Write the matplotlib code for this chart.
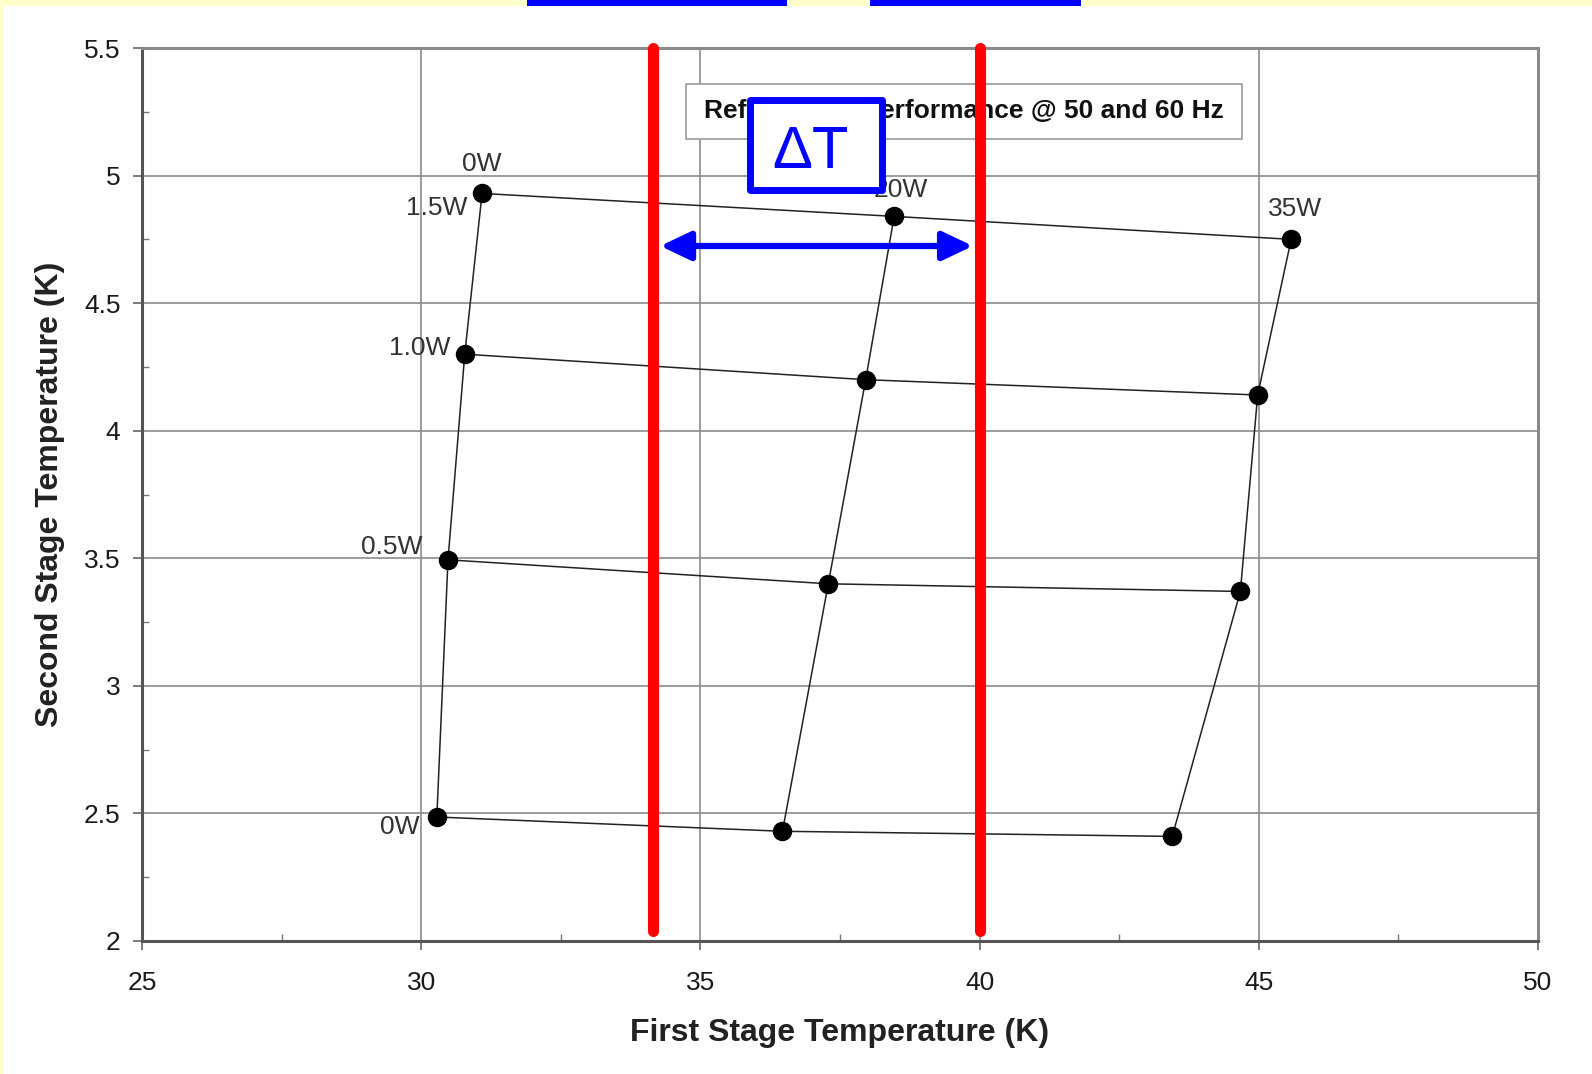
import matplotlib
matplotlib.use('Agg')
import matplotlib.pyplot as plt
from matplotlib.patches import Rectangle

plt.rcParams['font.family'] = ['Liberation Sans', 'DejaVu Sans']

# ---------------- data ----------------
first_stage_loads = ['0W', '20W', '35W']            # columns
second_stage_loads = ['0W', '0.5W', '1.0W', '1.5W']  # rows
first_stage_T = [
    [30.28, 36.47, 43.45],
    [30.48, 37.29, 44.67],
    [30.78, 37.96, 44.98],
    [31.09, 38.47, 45.58],
]
second_stage_T = [
    [2.486, 2.43, 2.41],
    [3.494, 3.40, 3.37],
    [4.30, 4.20, 4.14],
    [4.93, 4.84, 4.75],
]
x_ticks = [25, 30, 35, 40, 45, 50]
x_tick_labels = ['25', '30', '35', '40', '45', '50']
y_ticks = [2, 2.5, 3, 3.5, 4, 4.5, 5, 5.5]
y_tick_labels = ['2', '2.5', '3', '3.5', '4', '4.5', '5', '5.5']
x_minor = [27.5, 32.5, 37.5, 42.5, 47.5]
y_minor = [2.25, 2.75, 3.25, 3.75, 4.25, 4.75, 5.25]
delta_T_bounds = [34.15, 40.0]
arrow_span = [34.28, 39.88]
arrow_level = 4.724
title_text = 'Refrigerator Performance @ 50 and 60 Hz'

W, H = 1592, 1074
fig = plt.figure(figsize=(W / 100, H / 100), dpi=100, facecolor='white')

# yellow slide border strips and blue bars at top
fig.patches.append(Rectangle((0, 1 - 6 / H), 1, 6 / H, transform=fig.transFigure,
                             facecolor='#FFFFCC', edgecolor='none', zorder=0))
fig.patches.append(Rectangle((0, 0), 4 / W, 1, transform=fig.transFigure,
                             facecolor='#FFFFCC', edgecolor='none', zorder=0))
fig.patches.append(Rectangle((527 / W, 1 - 6 / H), 260 / W, 6 / H, transform=fig.transFigure,
                             facecolor='#0000FF', edgecolor='none', zorder=1))
fig.patches.append(Rectangle((870 / W, 1 - 6 / H), 211 / W, 6 / H, transform=fig.transFigure,
                             facecolor='#0000FF', edgecolor='none', zorder=1))

ax = fig.add_axes([142 / W, 133 / H, 1396 / W, 893 / H])
ax.set_facecolor('white')
ax.set_xlim(25, 50)
ax.set_ylim(2, 5.5)
ax.set_xticks(x_ticks)
ax.set_xticklabels(x_tick_labels)
ax.set_yticks(y_ticks)
ax.set_yticklabels(y_tick_labels)
ax.set_xticks(x_minor, minor=True)
ax.set_yticks(y_minor, minor=True)
ax.set_axisbelow(True)
ax.grid(True, which='major', color='#8c8c8c', lw=1.2)

for s in ['left', 'bottom']:
    ax.spines[s].set_color('#555555')
    ax.spines[s].set_linewidth(2.2)
for s in ['top', 'right']:
    ax.spines[s].set_color('#8a8a8a')
    ax.spines[s].set_linewidth(2.2)

ax.tick_params(which='major', direction='out', length=6.5, width=1.2, color='#666666',
               labelsize=19, labelcolor='#1a1a1a')
ax.tick_params(axis='x', which='major', pad=15)
ax.tick_params(axis='y', which='major', pad=9)
ax.tick_params(which='minor', direction='in', length=5, width=1.0, color='#777777')

# grid lines of the performance map
for i in range(len(second_stage_loads)):
    ax.plot(first_stage_T[i], second_stage_T[i], '-', color='#222222', lw=1.1, zorder=3)
for j in range(len(first_stage_loads)):
    xs = [first_stage_T[i][j] for i in range(len(second_stage_loads))]
    ys = [second_stage_T[i][j] for i in range(len(second_stage_loads))]
    ax.plot(xs, ys, '-', color='#222222', lw=1.1, zorder=3)
for i in range(len(second_stage_loads)):
    ax.plot(first_stage_T[i], second_stage_T[i], 'o', color='black', ms=13, zorder=4)

lab_kw = dict(textcoords='offset pixels', fontsize=19, color='#333333', va='center', zorder=5)
# column labels (first stage load) above top row
top = len(second_stage_loads) - 1
col_offsets = [(0, 29), (7, 26), (4, 30)]
for j, lab in enumerate(first_stage_loads):
    ax.annotate(lab, (first_stage_T[top][j], second_stage_T[top][j]),
                xytext=col_offsets[j], ha='center', **lab_kw)
# row labels (second stage load) at left
row_offsets = [(-17, -10), (-26, 13), (-14, 6), (-15, -15)]
for i, lab in enumerate(second_stage_loads):
    ax.annotate(lab, (first_stage_T[i][0], second_stage_T[i][0]),
                xytext=row_offsets[i], ha='right', **lab_kw)

# title box
ax.add_patch(Rectangle((34.74, 5.144), 44.70 - 34.74, 5.359 - 5.144, facecolor='white',
                       edgecolor='#999999', lw=1.2, zorder=6))
ax.text(35.07, 5.252, title_text, fontsize=19, fontweight='bold', color='#111111',
        ha='left', va='center', zorder=7)

# red delta-T bounds
for xv in delta_T_bounds:
    ax.plot([xv, xv], [2.04, 5.5], color='#FF0000', lw=8, solid_capstyle='round',
            clip_on=False, zorder=8)

# delta T box
ax.add_patch(Rectangle((35.89, 4.944), 38.25 - 35.89, 5.298 - 4.944, facecolor='white',
                       edgecolor='#0000FF', lw=5, joinstyle='round', zorder=9))
ax.text(36.97, 5.09, '\u0394T', fontsize=43, color='#0000FF', ha='center', va='center',
        zorder=10)

# double arrow
ax.annotate('', xy=(arrow_span[1], arrow_level), xytext=(arrow_span[0], arrow_level),
            arrowprops=dict(arrowstyle='<|-|>,head_length=0.8,head_width=0.38',
                            mutation_scale=23, color='#0000FF', lw=4.5,
                            shrinkA=0, shrinkB=0), zorder=9)

fig.text(840 / W, 1 - 1033 / H, 'First Stage Temperature (K)', fontsize=23,
         fontweight='bold', color='#222222', ha='center', va='center')
fig.text(50 / W, 1 - 494 / H, 'Second Stage Temperature (K)', fontsize=23,
         fontweight='bold', color='#222222', ha='center', va='center', rotation=90)

fig.savefig('out.png', dpi=100)
